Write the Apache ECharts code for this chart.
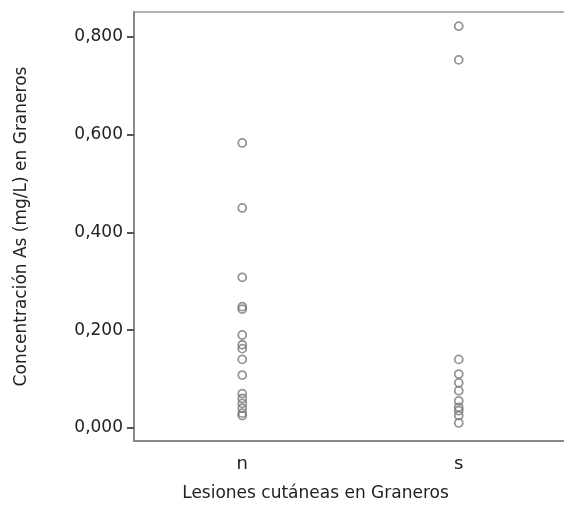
<!DOCTYPE html>
<html>
<head>
<meta charset="utf-8">
<script src="https://cdn.jsdelivr.net/npm/echarts@6/dist/echarts.min.js"></script>
<style>html,body{margin:0;padding:0;background:#fff;}#c{width:564px;height:506px;}</style>
</head>
<body>
<div id="c"></div>
<script>
const categories = ['n', 's'];
const valuesN = [0.583, 0.450, 0.308, 0.248, 0.243, 0.190, 0.170, 0.162, 0.140, 0.108, 0.070, 0.060, 0.050, 0.040, 0.030, 0.025];
const valuesS = [0.822, 0.753, 0.140, 0.110, 0.092, 0.076, 0.055, 0.042, 0.035, 0.025, 0.010];
const yTicks = [0, 0.2, 0.4, 0.6, 0.8];
const xTitle = 'Lesiones cutáneas en Graneros';
const yTitle = 'Concentración As (mg/L) en Graneros';

const pts = [];
valuesN.forEach(v => pts.push([categories[0], v]));
valuesS.forEach(v => pts.push([categories[1], v]));

const font = 'DejaVu Sans';
const chart = echarts.init(document.getElementById('c'));
chart.setOption({
  animation: false,
  backgroundColor: '#fff',
  grid: { left: 134, top: 12, width: 433, bottom: 65, outerBoundsMode: 'none', containLabel: false, show: true, borderColor: '#999', borderWidth: 1.5 },
  xAxis: {
    type: 'category',
    data: categories,
    boundaryGap: true,
    axisLine: { onZero: false, lineStyle: { color: '#888', width: 2 } },
    axisTick: { alignWithLabel: true, length: 6, lineStyle: { color: '#555', width: 2 } },
    axisLabel: { color: '#222', fontFamily: font, fontSize: 18, margin: 14 },
    name: xTitle,
    nameLocation: 'middle',
    nameGap: 44,
    nameTextStyle: { color: '#222', fontFamily: font, fontSize: 17, padding: [0, 70, 0, 0] }
  },
  yAxis: {
    type: 'value',
    min: -0.027,
    max: 0.851,
    splitLine: { show: false },
    axisLine: { show: true, lineStyle: { color: '#888', width: 2 } },
    axisTick: { show: true, customValues: yTicks, length: 7, lineStyle: { color: '#555', width: 2 } },
    axisLabel: {
      customValues: yTicks,
      color: '#222', fontFamily: font, fontSize: 17, margin: 11,
      formatter: v => v.toFixed(3).replace('.', ',')
    },
    name: yTitle,
    nameLocation: 'middle',
    nameGap: 104,
    nameTextStyle: { color: '#222', fontFamily: font, fontSize: 17 }
  },
  series: [{
    type: 'scatter',
    data: pts,
    symbol: 'circle',
    symbolSize: 8,
    itemStyle: { color: 'rgba(0,0,0,0)', borderColor: '#7a7a7a', borderWidth: 1.8 }
  }]
});
</script>
</body>
</html>
